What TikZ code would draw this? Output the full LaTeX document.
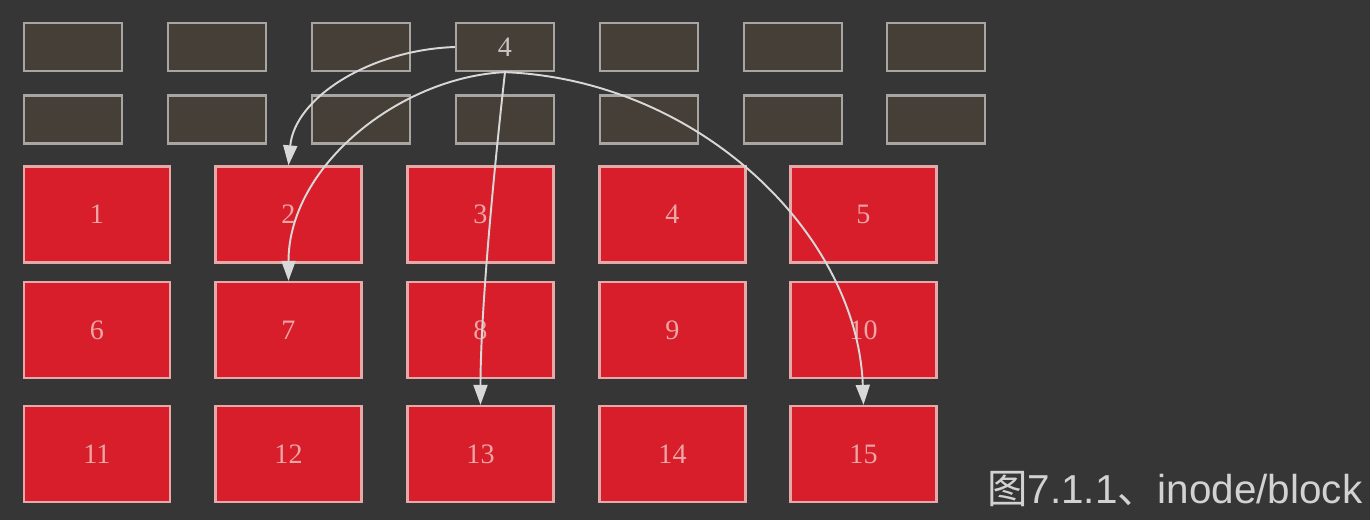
\documentclass[tikz,border=0pt]{standalone}
\usepackage{fontspec}
\setmainfont{Liberation Serif}
\setsansfont{Liberation Sans}
\newfontfamily\cjk{Noto Sans CJK SC}
\usetikzlibrary{arrows.meta}

\definecolor{bgcol}{HTML}{363636}
\definecolor{inodefill}{HTML}{463F37}
\definecolor{inodeline}{HTML}{A8A5A2}
\definecolor{inodetext}{HTML}{C8C4C0}
\definecolor{blockfill}{HTML}{D81E2B}
\definecolor{blockline}{HTML}{E6A9A9}
\definecolor{blocktext}{HTML}{EDA5A5}
\definecolor{linkcol}{HTML}{D8D8D8}
\definecolor{captext}{HTML}{D2D2D2}

\begin{document}
\begin{tikzpicture}[x=0.02cm, y=-0.02cm,
    inodebox/.style={draw=inodeline, fill=inodefill, line width=1.3pt,
        minimum width=1.96cm, minimum height=0.96cm, inner sep=0pt,
        text=inodetext, font=\fontsize{16}{18}\selectfont},
    blockbox/.style={draw=blockline, fill=blockfill, line width=1.3pt,
        minimum width=2.92cm, minimum height=1.92cm, inner sep=0pt,
        text=blocktext, font=\fontsize{16}{18}\selectfont},
    link/.style={draw=linkcol, line width=1.1pt,
        -{Triangle[length=0.4cm, width=0.28cm]}}]
                \fill[bgcol] (0,0) rectangle (1370,520);
                \useasboundingbox (0,0) rectangle (1370,520);

                % inode table
                \node[inodebox] (g1) at (73,47) {};
                \node[inodebox] (g2) at (217,47) {};
                \node[inodebox] (g3) at (361,47) {};
                \node[inodebox] (g4) at (505,47) {4};
                \node[inodebox] (g5) at (649,47) {};
                \node[inodebox] (g6) at (793,47) {};
                \node[inodebox] (g7) at (936,47) {};

                \node[inodebox] (h1) at (73,119.5) {};
                \node[inodebox] (h2) at (217,119.5) {};
                \node[inodebox] (h3) at (361,119.5) {};
                \node[inodebox] (h4) at (505,119.5) {};
                \node[inodebox] (h5) at (649,119.5) {};
                \node[inodebox] (h6) at (793,119.5) {};
                \node[inodebox] (h7) at (936,119.5) {};

                % data blocks
                \node[blockbox] (r1) at (97,214.5) {1};
                \node[blockbox] (r2) at (288.5,214.5) {2};
                \node[blockbox] (r3) at (480.5,214.5) {3};
                \node[blockbox] (r4) at (672.5,214.5) {4};
                \node[blockbox] (r5) at (863.5,214.5) {5};

                \node[blockbox] (r6) at (97,330) {6};
                \node[blockbox] (r7) at (288.5,330) {7};
                \node[blockbox] (r8) at (480.5,330) {8};
                \node[blockbox] (r9) at (672.5,330) {9};
                \node[blockbox] (r10) at (863.5,330) {10};

                \node[blockbox] (r11) at (97,454) {11};
                \node[blockbox] (r12) at (288.5,454) {12};
                \node[blockbox] (r13) at (480.5,454) {13};
                \node[blockbox] (r14) at (672.5,454) {14};
                \node[blockbox] (r15) at (863.5,454) {15};

                % pointers
                \draw[link] (g4.west) .. controls +(-86,3) and +(6,-67) .. (r2.north);
                \draw[link] (g4.south) .. controls +(-105,5) and +(0,-115) .. (r7.north);
                \draw[link] (g4.south) .. controls +(-9,80) and +(0,-100) .. (r13.north);
                \draw[link] (g4.south) .. controls +(195,8) and +(-6,-170) .. (r15.north);

                \node[anchor=base west, text=captext,
                      font=\sffamily\fontsize{23}{25}\selectfont] (cap) at (981,503)
                      {{\cjk 图}7.1.1{\cjk 、}inode/block};
            \end{tikzpicture}
\end{document}
